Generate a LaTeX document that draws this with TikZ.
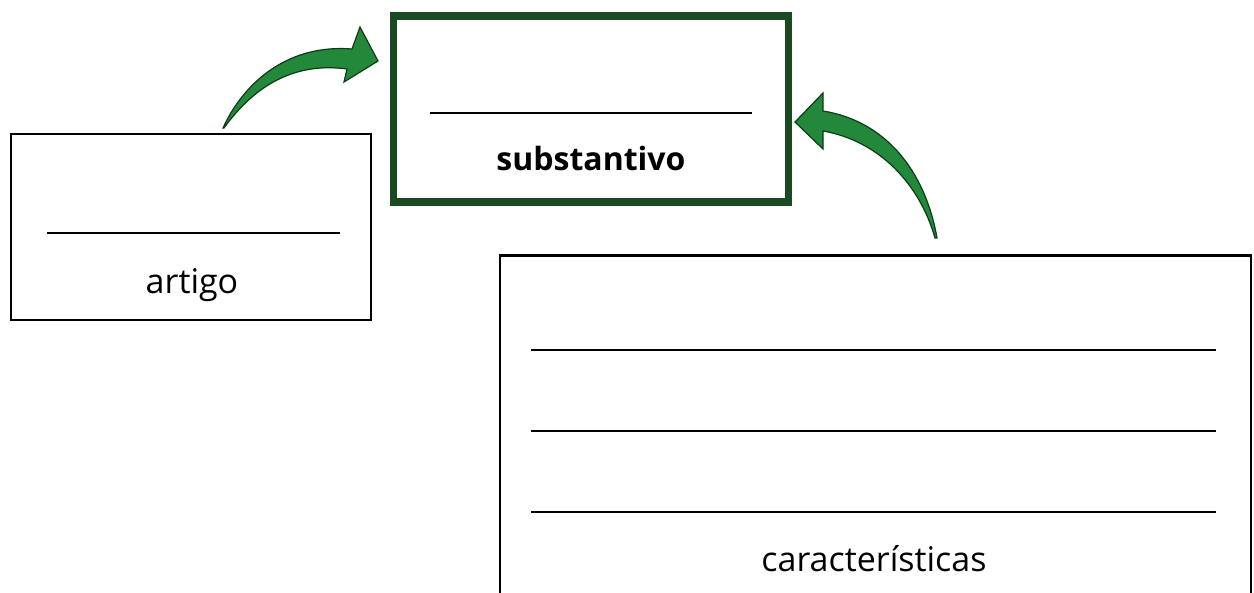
\documentclass[tikz,border=0pt]{standalone}
\usepackage{fontspec}
\setmainfont{Open Sans}
\begin{document}
\begin{tikzpicture}[x=1pt,y=-1pt,
  thinbox/.style={draw=black,line width=2.6pt,fill=none},
  thickbox/.style={draw=boxgreen,line width=7.5pt,fill=none},
  blank/.style={line width=1.6pt,black},
  lbl/.style={font=\fontsize{34}{40}\selectfont,inner sep=0pt,anchor=base},
  greenarrow/.style={fill=arrowgreen,draw=arrowdark,line width=1.2pt,line join=miter}]
\definecolor{boxgreen}{HTML}{1A4A22}
\definecolor{arrowgreen}{HTML}{23883A}
\definecolor{arrowdark}{HTML}{0F3A18}
\clip (0,0) rectangle (1254,593);
\fill[white] (0,0) rectangle (1254,593);
\useasboundingbox (0,0) rectangle (1254,593);
% boxes
\node[thickbox,minimum width=395pt,minimum height=186pt,inner sep=0pt] (sub) at (591,109) {};
\node[thinbox,minimum width=360pt,minimum height=186pt,inner sep=0pt] (art) at (191,227) {};
\node[thinbox,minimum width=751pt,minimum height=360pt,inner sep=0pt,anchor=north west] (car) at (498.5,254) {};
% blank lines
\draw[blank] (430,113) -- (752,113);
\draw[blank] (47,233) -- (340,233);
\draw[blank] (531,350) -- (1216,350);
\draw[blank] (531,431) -- (1216,431);
\draw[blank] (531,512) -- (1216,512);
% labels
\node[lbl,font=\fontsize{32}{38}\selectfont\bfseries] (tsub) at (591,171) {substantivo};
\node[lbl] (tart) at (192,294) {artigo};
\node[lbl] (tcar) at (874,572) {características};
% left arrow
\path[greenarrow] (223,128) .. controls (245,80) and (290,44) .. (352,49)
  -- (360,27) -- (378,61) -- (344,82) -- (347,69)
  .. controls (295,62) and (255,85) .. (224,128) -- cycle;
% right arrow
\path[greenarrow] (937,238) .. controls (925,170) and (885,121) .. (823,111)
  -- (823,93) -- (795,122) -- (823,149) -- (823,131)
  .. controls (880,141) and (920,185) .. (935,238) -- cycle;
\end{tikzpicture}
\end{document}
